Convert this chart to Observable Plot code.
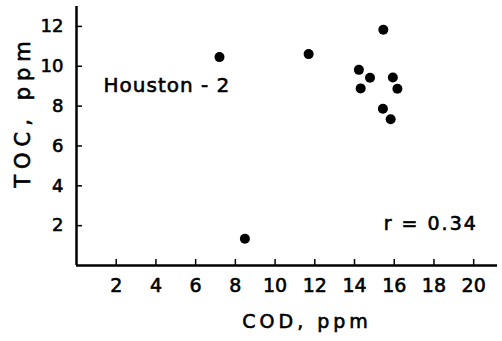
<!DOCTYPE html>
<html>
<head>
<meta charset="utf-8">
<script src="https://cdn.jsdelivr.net/npm/d3@7"></script>
<script src="https://cdn.jsdelivr.net/npm/@observablehq/plot@0.6"></script>
<style>
  html, body { margin: 0; padding: 0; background: #fff; }
</style>
</head>
<body>
<div id="chart"></div>
<script>
// Data (COD vs TOC, Houston-2)
const cod = [15.45, 11.69, 14.22, 14.78, 15.93, 14.31, 16.16, 15.43, 15.82, 7.20, 8.48];
const toc = [11.83, 10.61, 9.82, 9.42, 9.44, 8.89, 8.87, 7.87, 7.34, 10.46, 1.34];
const xTicks = [2, 4, 6, 8, 10, 12, 14, 16, 18, 20];
const yTicks = [2, 4, 6, 8, 10, 12];
const xLabel = "COD, ppm";
const yLabel = "TOC, ppm";
const siteLabel = "Houston - 2";
const rLabel = "r = 0.34";

const points = cod.map((c, i) => ({cod: c, toc: toc[i]}));

const chart = Plot.plot({
  width: 502,
  height: 341,
  marginLeft: 76,
  marginRight: 5,
  marginTop: 6,
  marginBottom: 76,
  style: {fontFamily: "'DejaVu Sans', sans-serif", color: "#000", background: "#fff"},
  x: {domain: [0, 21.2], axis: null},
  y: {domain: [0, 13], axis: null},
  marks: [
    Plot.axisY(yTicks, {anchor: "left", tickSize: 6, dx: 6, tickPadding: 13, fontSize: 18, strokeWidth: 1.5, label: null}),
    Plot.axisX(xTicks, {anchor: "bottom", tickSize: 6, dy: -6, tickPadding: 13, fontSize: 19, strokeWidth: 1.5, label: null}),
    Plot.ruleX([0], {y1: 0, y2: 13, strokeWidth: 2.5}),
    Plot.ruleY([0], {x1: 0, x2: 21.2, strokeWidth: 2.5}),
    Plot.dot(points, {x: "cod", y: "toc", r: 5, fill: "#000", stroke: null}),
    Plot.text([siteLabel], {x: 1.36, y: 9.04, text: d => d, textAnchor: "start", fontSize: 20, fill: "#000"}),
    Plot.text([rLabel], {x: 15.47, y: 2.08, text: d => d, textAnchor: "start", fontSize: 19, fill: "#000"}),
    Plot.text([xLabel], {x: 11.61, y: -2.84, text: d => d, fontSize: 19, fill: "#000"}),
    Plot.text([yLabel], {x: -2.67, y: 7.73, text: d => d, rotate: -90, fontSize: 21, fill: "#000"})
  ]
});

document.getElementById("chart").appendChild(chart);

// letter spacing and heavier strokes to match the scanned typography
const spacing = {};
spacing[xLabel] = "4px";
spacing[yLabel] = "6px";
spacing[siteLabel] = "1px";
spacing[rLabel] = "2px";
chart.querySelectorAll("text").forEach(t => {
  const s = spacing[t.textContent];
  if (s) t.style.letterSpacing = s;
  t.style.stroke = "#000";
  t.style.strokeWidth = "0.6px";
});
</script>
</body>
</html>
